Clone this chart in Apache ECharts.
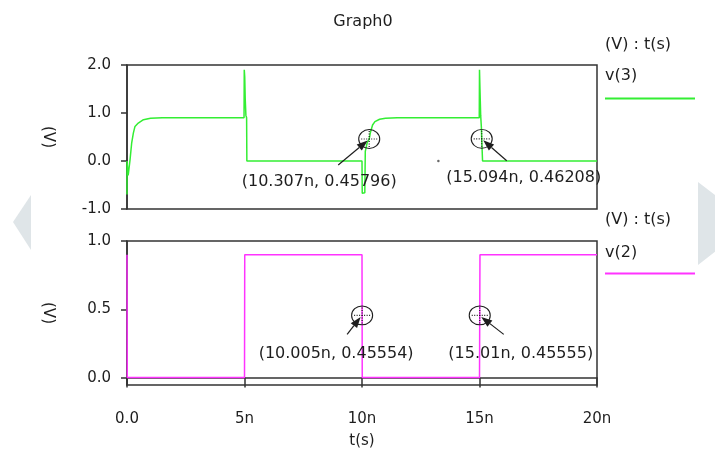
<!DOCTYPE html>
<html>
<head>
<meta charset="utf-8">
<script src="https://cdn.jsdelivr.net/npm/echarts@6/dist/echarts.min.js"></script>
<style>
  html, body { margin: 0; padding: 0; background: #ffffff; }
  #chart { width: 715px; height: 450px; }
</style>
</head>
<body>
<div id="chart"></div>
<script>
// Transient run, time in ns
const timeTicks = [0, 5, 10, 15, 20];
const v3Ticks = [-1, 0, 1, 2];
const v2Ticks = [0, 0.5, 1];

// v(3): output node
const v3Time = [0, 0, 0.05, 0.13, 0.2, 0.27, 0.34, 0.48, 0.7, 1.0, 1.5,
  4.98, 4.99, 5.01, 5.03, 5.06, 5.09, 5.1,
  10.0, 10.01, 10.12, 10.14, 10.22, 10.307, 10.36, 10.45, 10.55, 10.75, 11.0, 11.5,
  14.99, 15.0, 15.02, 15.05, 15.08, 15.094, 15.13, 20];
const v3 = [-0.7, 0.0, -0.3, 0.03, 0.38, 0.58, 0.72, 0.79, 0.86, 0.89, 0.9,
  0.9, 1.9, 1.75, 1.3, 0.95, 0.9, 0.0,
  0.0, -0.67, -0.66, 0.2, 0.38, 0.45796, 0.6, 0.75, 0.82, 0.87, 0.89, 0.9,
  0.9, 1.9, 1.5, 0.95, 0.7, 0.46208, 0.0, 0.0];

// v(2): input pulse
const v2Time = [0, 0.01, 5.0, 5.01, 10.0, 10.005, 10.01, 15.0, 15.01, 15.02, 20];
const v2 = [0.9, 0, 0, 0.9, 0.9, 0.45554, 0, 0, 0.45555, 0.9, 0.9];

// Cursor readouts [t (ns), V]
const v3Cursors = [[10.307, 0.45796], [15.094, 0.46208]];
const v2Cursors = [[10.005, 0.45554], [15.01, 0.45555]];

// Stray cursor dot left on the upper plot
const v3Dot = [[13.25, 0.0]];

// Callout placement relative to each cursor (pixels)
const v3CalloutLayout = [
  { label: [-50, 43], tail: [-31, 26] },
  { label: [42, 39], tail: [25, 22] }
];
const v2CalloutLayout = [
  { label: [-26, 38], tail: [-15, 19] },
  { label: [41, 38], tail: [24, 19] }
];

const FONT = 'DejaVu Sans';
const INK = '#1e1e1e';
const FRAME = '#333333';
const GREEN = '#33ee33';
const MAGENTA = '#ff33ff';

function zip(xs, ys) { return xs.map((x, i) => [x, ys[i]]); }

function fmtV(v) { return v.toFixed(1); }

function calloutSeries(name, xi, yi, cursors, layout) {
  return {
    name: name,
    type: 'custom',
    xAxisIndex: xi,
    yAxisIndex: yi,
    clip: false,
    z: 5,
    data: cursors,
    renderItem: function (params, api) {
      const t = api.value(0), v = api.value(1);
      const p = api.coord([t, v]);
      const cx = p[0], cy = p[1];
      const lay = layout[params.dataIndex];
      const tx = cx + lay.tail[0], ty = cy + lay.tail[1];
      const hx = cx + (lay.tail[0] < 0 ? -1.5 : 1.5), hy = cy + 1.5;
      const ang = Math.atan2(hy - ty, hx - tx);
      const L = 11, W = 4;
      const bx = hx - L * Math.cos(ang), by = hy - L * Math.sin(ang);
      const nx = -Math.sin(ang) * W, ny = Math.cos(ang) * W;
      return {
        type: 'group',
        children: [
          { type: 'circle', x: cx, y: cy, scaleY: 0.9,
            shape: { cx: 0, cy: 0, r: 10.5 },
            style: { fill: 'none', stroke: INK, lineWidth: 1.1 } },
          { type: 'line', shape: { x1: cx - 8, y1: cy, x2: cx + 8, y2: cy },
            style: { stroke: INK, lineWidth: 1.2, lineDash: [1, 1.5] } },
          { type: 'line', shape: { x1: cx, y1: cy - 8, x2: cx, y2: cy + 8 },
            style: { stroke: INK, lineWidth: 1.2, lineDash: [1, 1.5] } },
          { type: 'line', shape: { x1: tx, y1: ty, x2: bx, y2: by },
            style: { stroke: INK, lineWidth: 1.2 } },
          { type: 'polygon',
            shape: { points: [[hx, hy], [bx + nx, by + ny], [bx - nx, by - ny]] },
            style: { fill: INK } },
          { type: 'text',
            style: { text: '(' + t + 'n, ' + v + ')',
              x: cx + lay.label[0], y: cy + lay.label[1],
              align: 'center', verticalAlign: 'middle',
              fontFamily: FONT, fontSize: 16, fill: INK } }
        ]
      };
    }
  };
}

const axisLineStyle = { color: FRAME, width: 1.5 };
const tickLabel = { color: INK, fontFamily: FONT, fontSize: 15 };

const option = {
  animation: false,
  backgroundColor: '#ffffff',
  grid: [
    { left: 127, top: 65, width: 470, height: 144, show: true,
      borderColor: FRAME, borderWidth: 1.5, backgroundColor: 'transparent' },
    { left: 127, top: 241, width: 470, height: 145, show: true,
      borderColor: FRAME, borderWidth: 1.5, backgroundColor: 'transparent' }
  ],
  xAxis: [
    { gridIndex: 0, type: 'value', min: 0, max: 20, interval: 5, show: false },
    { gridIndex: 1, type: 'value', min: 0, max: 20, interval: 5, offset: 6,
      axisLine: { show: true, lineStyle: axisLineStyle },
      axisTick: { show: true, inside: false, length: 10, lineStyle: axisLineStyle,
        customValues: timeTicks },
      axisLabel: Object.assign({ margin: 21, customValues: timeTicks,
        formatter: v => (v === 0 ? '0.0' : v + 'n') }, tickLabel),
      splitLine: { show: false },
      name: 't(s)', nameLocation: 'middle', nameGap: 43,
      nameTextStyle: { color: INK, fontFamily: FONT, fontSize: 15 } }
  ],
  yAxis: [
    { gridIndex: 0, type: 'value', min: -1, max: 2, interval: 1, offset: 4,
      axisLine: { show: true, lineStyle: axisLineStyle },
      axisTick: { show: true, inside: false, length: 6, lineStyle: axisLineStyle,
        customValues: v3Ticks },
      axisLabel: Object.assign({ margin: 12, customValues: v3Ticks, formatter: fmtV }, tickLabel),
      splitLine: { show: false },
      name: '(V)', nameLocation: 'middle', nameRotate: -90, nameGap: 68,
      nameTextStyle: { color: INK, fontFamily: FONT, fontSize: 15 } },
    { gridIndex: 1, type: 'value', min: -0.054, max: 1, offset: 4,
      axisLine: { show: true, lineStyle: axisLineStyle },
      axisTick: { show: true, inside: false, length: 6, lineStyle: axisLineStyle,
        customValues: v2Ticks },
      axisLabel: Object.assign({ margin: 12, customValues: v2Ticks, formatter: fmtV }, tickLabel),
      splitLine: { show: false },
      name: '(V)', nameLocation: 'middle', nameRotate: -90, nameGap: 68,
      nameTextStyle: { color: INK, fontFamily: FONT, fontSize: 15 } }
  ],
  series: [
    { name: 'v(3)', type: 'line', xAxisIndex: 0, yAxisIndex: 0,
      data: zip(v3Time, v3), showSymbol: false, z: 3,
      lineStyle: { color: GREEN, width: 1.5 } },
    { name: 'v(2)', type: 'line', xAxisIndex: 1, yAxisIndex: 1,
      data: zip(v2Time, v2), showSymbol: false, z: 3,
      lineStyle: { color: MAGENTA, width: 1.5 } },
    { name: 'dot', type: 'scatter', xAxisIndex: 0, yAxisIndex: 0,
      data: v3Dot, symbolSize: 2.5, itemStyle: { color: '#444' }, silent: true },
    calloutSeries('v(3) cursors', 0, 0, v3Cursors, v3CalloutLayout),
    calloutSeries('v(2) cursors', 1, 1, v2Cursors, v2CalloutLayout)
  ],
  graphic: [
    // page navigation arrows behind the plot
    { type: 'polygon', z: -10, silent: true,
      shape: { points: [[13, 222], [31, 195], [31, 250]] },
      style: { fill: '#dfe5e8' } },
    { type: 'polygon', z: -10, silent: true,
      shape: { points: [[698, 182], [752, 223], [698, 265]] },
      style: { fill: '#dfe5e8' } },
    // title
    { type: 'text', x: 363, y: 22,
      style: { text: 'Graph0', align: 'center', verticalAlign: 'middle',
        fontFamily: FONT, fontSize: 16, fill: INK } },
    // trace keys
    { type: 'text', x: 605, y: 45,
      style: { text: '(V) : t(s)', verticalAlign: 'middle', fontFamily: FONT, fontSize: 16, fill: INK } },
    { type: 'text', x: 605, y: 76,
      style: { text: 'v(3)', verticalAlign: 'middle', fontFamily: FONT, fontSize: 16, fill: INK } },
    { type: 'line', shape: { x1: 605, y1: 98.5, x2: 695, y2: 98.5 },
      style: { stroke: GREEN, lineWidth: 2 } },
    { type: 'text', x: 605, y: 220,
      style: { text: '(V) : t(s)', verticalAlign: 'middle', fontFamily: FONT, fontSize: 16, fill: INK } },
    { type: 'text', x: 605, y: 253,
      style: { text: 'v(2)', verticalAlign: 'middle', fontFamily: FONT, fontSize: 16, fill: INK } },
    { type: 'line', shape: { x1: 605, y1: 273.5, x2: 695, y2: 273.5 },
      style: { stroke: MAGENTA, lineWidth: 2 } }
  ]
};

const chart = echarts.init(document.getElementById('chart'), null, { renderer: 'canvas' });
chart.setOption(option);
</script>
</body>
</html>
